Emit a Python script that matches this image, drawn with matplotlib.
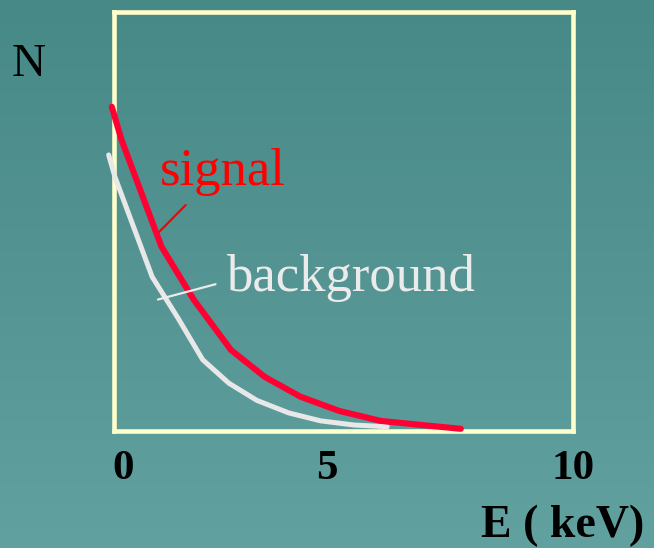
import numpy as np
import matplotlib
matplotlib.use("Agg")
import matplotlib.pyplot as plt
from matplotlib.colors import LinearSegmentedColormap

# curve data (E in keV, N arbitrary units)
sig_e = [-0.05, 0.17, 1.07, 1.80, 2.64, 3.40, 4.20, 5.07, 6.01, 6.95, 7.82]
sig_n = [7.73, 6.94, 4.39, 3.12, 1.92, 1.28, 0.81, 0.47, 0.23, 0.13, 0.04]

bkg_e = [-0.12, 0.02, 0.86, 1.44, 2.00, 2.59, 3.22, 3.94, 4.66, 5.42, 6.16]
bkg_n = [6.58, 6.06, 3.67, 2.69, 1.69, 1.13, 0.72, 0.42, 0.23, 0.13, 0.09]

tick_pos = [0.2, 4.8, 10.35]
tick_labels = ["0", "5", "10"]

plt.rcParams["font.family"] = ["Liberation Serif", "DejaVu Serif"]

fig = plt.figure(figsize=(6.54, 5.48), dpi=100)

# teal gradient background
bg = fig.add_axes([0, 0, 1, 1])
cmap = LinearSegmentedColormap.from_list("teal", ["#478987", "#61a1a0"])
bg.imshow(np.linspace(0, 1, 256).reshape(-1, 1), aspect="auto", cmap=cmap,
          extent=[0, 1, 0, 1], origin="upper")
bg.set_axis_off()

ax = fig.add_axes([114 / 654, 1 - 430.5 / 548, 459 / 654, 418.8 / 548])
ax.set_facecolor("none")
ax.set_xlim(0, 10)
ax.set_ylim(0, 10)

for s in ax.spines.values():
    s.set_color("#ffffcc")
    s.set_linewidth(3.3)

ax.plot(bkg_e, bkg_n, color="#e8e8e8", lw=3.6, clip_on=False, zorder=4,
        solid_capstyle="round")
ax.plot(sig_e, sig_n, color="#ff0033", lw=4.4, clip_on=False, zorder=5,
        solid_capstyle="round")

ax.text(1.04, 5.86, "signal", color="#ff0000", fontsize=38, va="baseline")
ax.annotate("", xy=(0.97, 4.69), xytext=(1.66, 5.43),
            arrowprops=dict(arrowstyle="-", color="#ff0000", lw=1.6))
ax.text(2.53, 3.34, "background", color="#ebebeb", fontsize=38, va="baseline")
ax.annotate("", xy=(0.93, 3.11), xytext=(2.35, 3.51),
            arrowprops=dict(arrowstyle="-", color="#ebebeb", lw=1.6),
            zorder=6)

ax.set_xticks(tick_pos)
ax.set_xticklabels(tick_labels, fontsize=31, fontweight="bold")
ax.tick_params(axis="x", length=0, pad=14)
ax.set_yticks([])

fig.text(12 / 654, 1 - 76 / 548, "N", fontsize=34, color="black",
         va="baseline")
fig.text(481 / 654, 1 - 537 / 548, "E ( keV)", fontsize=33,
         fontweight="bold", color="black", va="baseline")

fig.savefig("out.png", dpi=100)
